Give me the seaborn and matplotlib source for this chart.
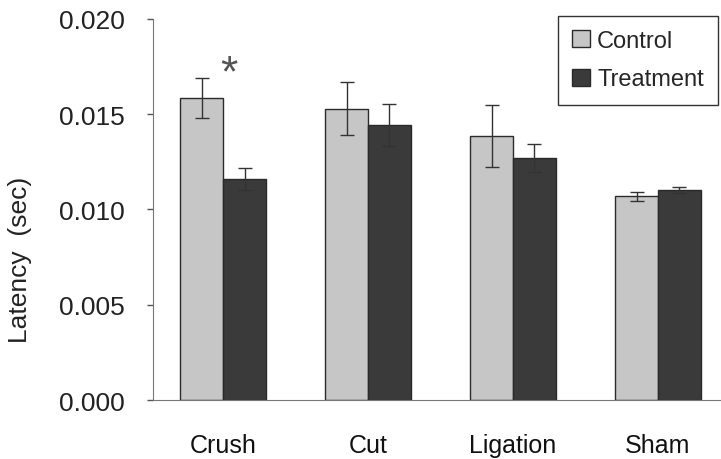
import matplotlib
matplotlib.use("Agg")
import matplotlib.pyplot as plt
import seaborn as sns
import pandas as pd
from matplotlib import font_manager

# Latency per injury type
injury = ["Crush", "Cut", "Ligation", "Sham"]
groups = ["Control", "Treatment"]
control_mean = [0.01585, 0.01528, 0.01385, 0.01068]
control_err = [0.00103, 0.00140, 0.00163, 0.00023]
treat_mean = [0.01158, 0.01442, 0.01268, 0.01100]
treat_err = [0.00058, 0.00111, 0.00074, 0.00016]

sns.set_style("ticks")
plt.rcParams['font.family'] = ['Liberation Sans', 'DejaVu Sans']

names = [f.name for f in font_manager.fontManager.ttflist]
narrow = 'Liberation Sans Narrow' if 'Liberation Sans Narrow' in names else 'Liberation Sans'

df = pd.DataFrame({
    'injury': injury * 2,
    'group': [groups[0]] * 4 + [groups[1]] * 4,
    'latency': control_mean + treat_mean,
})

fig = plt.figure(figsize=(7.21, 4.6), dpi=100)
ax = fig.add_axes([0.212, 0.128, 0.788, 0.829])

sns.barplot(data=df, x='injury', y='latency', hue='group', order=injury,
            hue_order=groups, palette=['#c6c6c6', '#3a3a3a'], width=0.59,
            edgecolor='#2a2a2a', linewidth=1.0, errorbar=None, ax=ax,
            saturation=1)

# Error bars at the centres of each bar
for cont, errs in zip(ax.containers, [control_err, treat_err]):
    xs = [p.get_x() + p.get_width() / 2 for p in cont]
    ys = [p.get_height() for p in cont]
    ax.errorbar(xs, ys, yerr=errs, fmt='none', ecolor='#333333',
                elinewidth=1.0, capsize=5, capthick=1.0)

# Significance mark over the Crush pair
ax.text(0.04, 0.0171, '*', fontsize=32, ha='center', va='center', color='#555555')

ax.set_ylim(0, 0.020)
ax.set_xlim(-0.485, 3.435)
ax.set_yticks([0.000, 0.005, 0.010, 0.015, 0.020])
ax.set_yticklabels(['0.000', '0.005', '0.010', '0.015', '0.020'], fontsize=19,
                   color='#222222')
ax.tick_params(axis='y', length=4, width=1, color='#555555', pad=16)
ax.tick_params(axis='x', length=0, pad=24)
for lab in ax.get_xticklabels():
    lab.set_fontfamily(narrow)
    lab.set_fontsize(18)
    lab.set_color('#111111')

ax.set_xlabel('')
ax.set_ylabel('Latency  (sec)', fontsize=19, color='#222222')
ax.yaxis.set_label_coords(-0.212, 0.37)

sns.despine(ax=ax)
ax.spines['left'].set_color('#777777')
ax.spines['bottom'].set_color('#777777')

leg = ax.legend(loc='upper right', bbox_to_anchor=(0.995, 1.008), fancybox=False,
                edgecolor='#333333', framealpha=1, prop={'family': narrow, 'size': 17},
                handlelength=0.75, handleheight=0.75, handletextpad=0.3,
                borderpad=0.6, labelspacing=0.7, borderaxespad=0)
leg.get_frame().set_linewidth(1.0)

fig.savefig('out.png', dpi=100)
